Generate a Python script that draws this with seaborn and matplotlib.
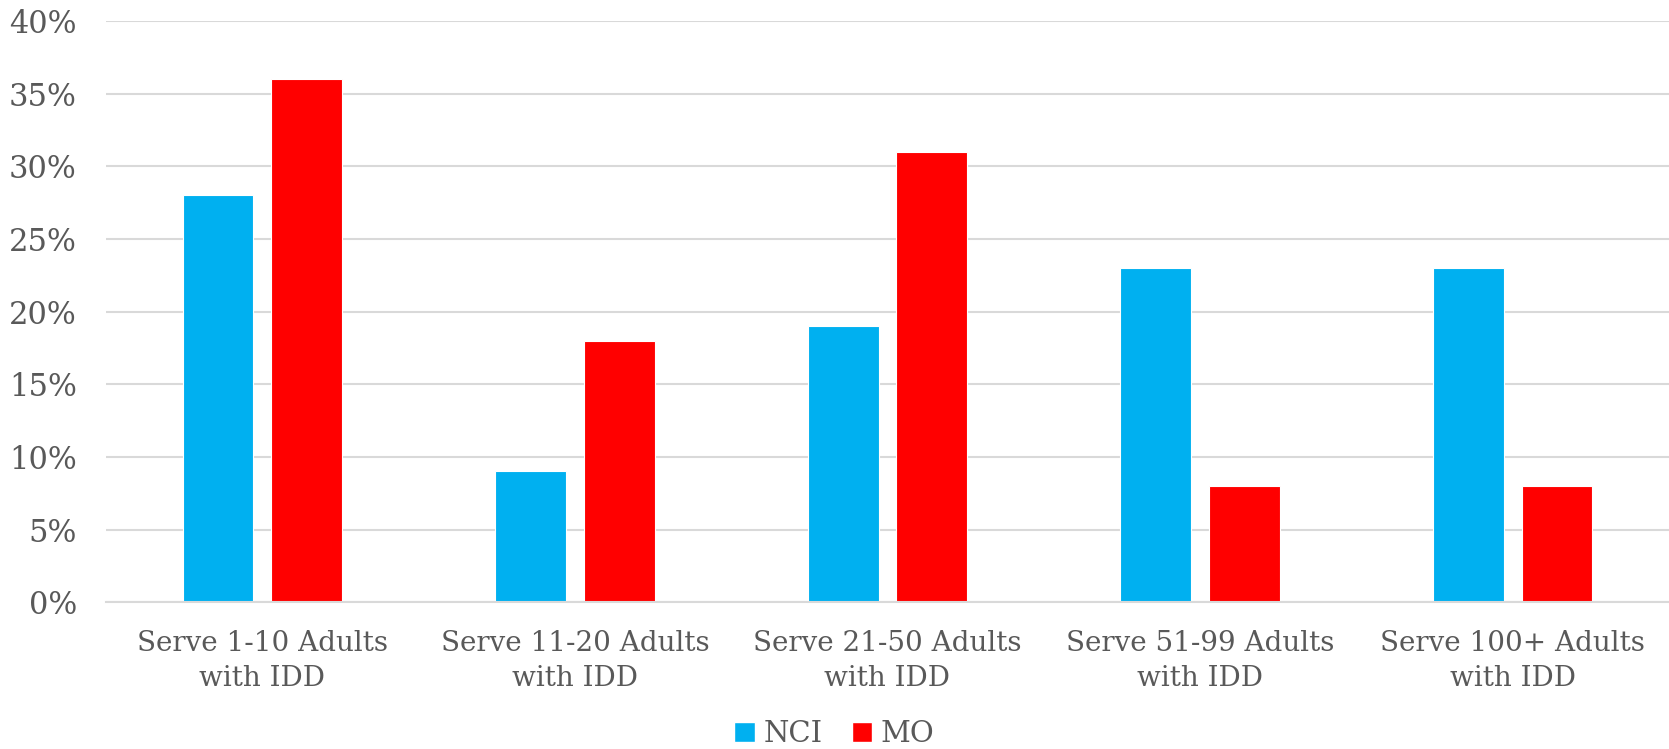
import numpy as np
import pandas as pd
import matplotlib
matplotlib.use("Agg")
import matplotlib.pyplot as plt
import seaborn as sns
from matplotlib.ticker import PercentFormatter
from matplotlib.patches import Patch

categories = ["Serve 1-10 Adults\nwith IDD", "Serve 11-20 Adults\nwith IDD",
              "Serve 21-50 Adults\nwith IDD", "Serve 51-99 Adults\nwith IDD",
              "Serve 100+ Adults\nwith IDD"]
nci = [28, 9, 19, 23, 23]
mo = [36, 18, 31, 8, 8]
series = ["NCI", "MO"]
colors = {"NCI": "#00B0F0", "MO": "#FF0000"}

df = pd.DataFrame({"Category": categories * 2,
                   "Group": ["NCI"] * 5 + ["MO"] * 5,
                   "Value": nci + mo})

sns.set_style("white")
plt.rcParams['font.family'] = ['DejaVu Serif']
grey = "#595959"

fig = plt.figure(figsize=(16.69, 7.49), dpi=100)
ax = fig.add_axes([0.0635, 0.196, 0.9365, 0.776])
sns.barplot(data=df, x="Category", y="Value", hue="Group", hue_order=series,
            palette=colors, width=0.566, gap=0.2, ax=ax, legend=False,
            edgecolor="white", linewidth=0.8, saturation=1)

ax.set_xlim(-0.5, 4.5)
ax.set_ylim(0, 40)
ax.set_yticks(range(0, 41, 5))
ax.yaxis.set_major_formatter(PercentFormatter(decimals=0))
ax.grid(axis="y", color="#D9D9D9", linewidth=1.5)
ax.set_axisbelow(True)
for s in ["top", "right", "left"]:
    ax.spines[s].set_visible(False)
ax.spines["bottom"].set_color("#D9D9D9")
ax.spines["bottom"].set_linewidth(1.5)
ax.set_xlabel("")
ax.set_ylabel("")
ax.tick_params(axis="both", length=0, colors=grey)
ax.tick_params(axis="y", labelsize=22, pad=21)
ax.tick_params(axis="x", labelsize=20, pad=20)
for lbl in ax.get_xticklabels():
    lbl.set_linespacing(1.4)

handles = [Patch(facecolor=colors[s], label=s) for s in series]
fig.legend(handles=handles, loc="center", bbox_to_anchor=(0.5, 0.02),
           ncol=2, frameon=False, fontsize=21, labelcolor=grey,
           handlelength=0.7, handleheight=0.7, handletextpad=0.3,
           columnspacing=1.0)

fig.savefig("out.png", dpi=100)
